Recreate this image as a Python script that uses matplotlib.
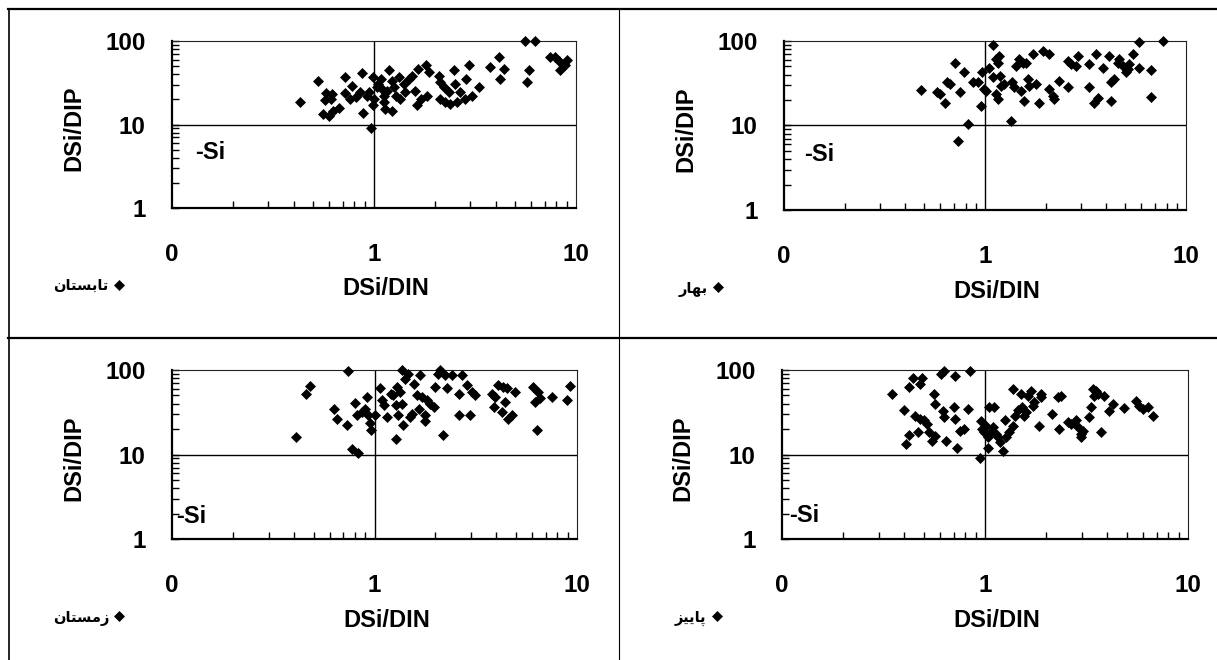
import matplotlib.pyplot as plt
from matplotlib.lines import Line2D
from matplotlib.ticker import LogLocator, NullFormatter

# Persian season names, written in presentation forms (visual order) so that
# matplotlib, which has no Arabic shaping, draws them joined and right-to-left.
# summer = تابستان, spring = بهار, winter = زمستان, autumn = پاییز
season_labels = [
    "\ufee5\ufe8e\ufe98\ufeb4\ufe91\ufe8e\ufe97",
    "\ufead\ufe8e\ufeec\ufe91",
    "\ufee5\ufe8e\ufe98\ufeb4\ufee3\ufeaf",
    "\ufeb0\ufbff\ufbfe\ufe8e\ufb58",
]

summer_x = [0.43, 0.53, 0.56, 0.60, 0.63, 0.67, 0.58, 0.62, 0.57, 0.61, 0.72, 0.72, 0.78,
            0.76, 0.81, 0.85, 0.87, 0.88, 0.94, 0.92, 0.99, 1.0, 0.99, 0.97, 1.05, 1.08,
            1.04, 1.10, 1.12, 1.12, 1.14, 1.23, 1.18, 1.23, 1.16, 1.25, 1.28, 1.33, 1.35,
            1.40, 1.43, 1.49, 1.54, 1.60, 1.63, 1.66, 1.70, 1.80, 1.87, 1.83, 2.09, 2.13,
            2.21, 2.11, 2.25, 2.39, 2.34, 2.48, 2.53, 2.58, 2.68, 2.83, 2.87, 2.94, 3.06,
            3.30, 3.77, 4.14, 4.22, 4.38, 5.61, 6.29, 5.83, 5.72, 7.46, 7.90, 8.21, 9.02,
            8.85, 8.36]
summer_y = [18.5, 33.0, 13.4, 12.8, 14.4, 15.8, 23.7, 23.3, 19.4, 20.3, 36.9, 23.7, 29.3,
            20.3, 21.5, 24.4, 41.2, 13.7, 24.4, 22.2, 36.9, 20.3, 16.9, 9.0, 30.7, 35.2,
            28.0, 26.7, 22.2, 18.5, 15.4, 14.4, 45.2, 33.6, 25.5, 28.0, 22.2, 36.9, 20.3,
            30.7, 24.4, 35.2, 38.6, 25.5, 16.9, 46.4, 20.3, 50.9, 42.4, 22.2, 38.6, 32.1,
            28.0, 20.3, 18.5, 17.7, 24.4, 44.4, 30.7, 18.5, 24.4, 20.3, 35.2, 50.9, 22.2,
            28.0, 48.6, 64.0, 35.2, 46.4, 99.5, 99.5, 45.2, 32.1, 64.0, 65.2, 58.3, 59.4,
            50.9, 44.4]

spring_x = [0.48, 0.58, 0.60, 0.63, 0.65, 0.67, 0.71, 0.73, 0.75, 0.79, 0.82, 0.87, 0.92,
            0.95, 0.97, 0.99, 1.01, 1.05, 1.09, 1.10, 1.13, 1.16, 1.18, 1.20, 1.19, 1.13,
            1.16, 1.25, 1.35, 1.37, 1.40, 1.43, 1.48, 1.51, 1.54, 1.57, 1.60, 1.63, 1.66,
            1.73, 1.79, 1.86, 1.94, 2.09, 2.09, 2.17, 2.21, 2.34, 2.58, 2.58, 2.68, 2.89,
            2.84, 3.30, 3.30, 3.50, 3.64, 3.57, 3.85, 4.24, 4.16, 4.24, 4.40, 4.57, 4.66,
            4.84, 5.03, 5.22, 5.43, 5.86, 5.86, 6.70, 6.70, 7.65, 5.13]
spring_y = [26.4, 24.6, 23.5, 18.4, 32.3, 30.8, 55.6, 6.6, 24.6, 43.2, 10.4, 32.9, 32.3,
            17.1, 42.4, 26.9, 25.7, 48.5, 89.3, 37.0, 60.9, 55.6, 66.7, 29.5, 38.7, 23.5,
            20.5, 30.8, 11.4, 32.3, 28.2, 50.8, 60.9, 25.7, 55.6, 19.6, 55.6, 35.3, 29.5,
            69.9, 30.8, 18.7, 76.6, 69.9, 26.9, 22.4, 20.5, 33.8, 28.2, 58.2, 53.2, 66.7,
            50.8, 53.2, 28.2, 18.7, 21.4, 69.9, 48.5, 19.6, 66.7, 32.3, 35.3, 55.6, 60.9,
            50.8, 42.4, 53.2, 69.9, 96.0, 48.5, 45.6, 22.0, 100.0, 46.4]

winter_x = [0.41, 0.46, 0.48, 0.63, 0.65, 0.73, 0.74, 0.77, 0.83, 0.80, 0.82, 0.87, 0.90,
            0.92, 0.93, 0.95, 0.96, 1.01, 1.07, 1.09, 1.11, 1.15, 1.20, 1.24, 1.27, 1.27,
            1.29, 1.31, 1.34, 1.36, 1.37, 1.39, 1.42, 1.47, 1.50, 1.53, 1.56, 1.62, 1.65,
            1.68, 1.71, 1.78, 1.78, 1.81, 1.88, 1.96, 1.99, 2.07, 2.11, 2.19, 2.23, 2.28,
            2.41, 2.60, 2.60, 2.70, 2.86, 2.97, 3.02, 3.14, 3.79, 3.87, 3.94, 4.09, 4.25,
            4.33, 4.41, 4.50, 4.58, 4.76, 4.94, 6.09, 6.21, 6.33, 6.45, 6.57, 7.49, 8.89,
            9.23]
winter_y = [16.2, 52.7, 65.0, 35.0, 26.2, 22.6, 96.8, 11.6, 10.3, 41.2, 29.2, 32.0, 35.0,
            48.1, 29.2, 23.3, 19.4, 29.2, 61.5, 43.9, 38.4, 27.9, 52.7, 50.4, 38.4, 15.2,
            63.2, 29.2, 54.2, 40.1, 100.0, 22.6, 79.3, 90.9, 27.9, 30.5, 69.2, 50.4, 35.0,
            86.9, 48.1, 24.8, 29.2, 43.9, 40.1, 36.6, 63.2, 90.9, 99.5, 17.2, 86.9, 61.5,
            86.9, 29.7, 52.7, 86.9, 66.2, 29.2, 55.2, 50.4, 52.7, 36.6, 48.1, 66.2, 32.0,
            63.2, 42.0, 61.5, 26.2, 29.2, 55.2, 63.2, 42.0, 19.4, 55.2, 46.0, 48.1, 43.9,
            65.0]

autumn_x = [0.35, 0.40, 0.41, 0.42, 0.42, 0.44, 0.45, 0.47, 0.48, 0.48, 0.49, 0.50, 0.52,
            0.53, 0.55, 0.56, 0.57, 0.57, 0.61, 0.63, 0.62, 0.63, 0.64, 0.70, 0.71, 0.71,
            0.73, 0.75, 0.79, 0.82, 0.84, 0.94, 0.96, 0.97, 0.99, 1.01, 1.03, 1.04, 1.05,
            1.07, 1.09, 1.11, 1.13, 1.16, 1.19, 1.22, 1.25, 1.27, 1.32, 1.37, 1.37, 1.41,
            1.45, 1.50, 1.53, 1.56, 1.59, 1.69, 1.62, 1.72, 1.75, 1.85, 1.89, 1.89, 2.15,
            2.28, 2.32, 2.37, 2.55, 2.65, 2.81, 2.86, 2.97, 2.97, 3.03, 3.26, 3.33, 3.39,
            3.45, 3.52, 3.59, 3.72, 3.87, 4.10, 4.25, 4.86, 5.54, 5.76, 5.98, 6.33, 6.70]
autumn_y = [51.3, 33.2, 13.4, 17.1, 62.6, 80.0, 28.4, 18.7, 26.4, 68.6, 80.0, 25.3, 23.1,
            18.4, 14.6, 52.2, 39.8, 16.5, 90.2, 98.6, 32.3, 27.7, 14.6, 36.3, 84.5, 26.4,
            11.9, 19.2, 20.1, 34.7, 96.0, 9.05, 24.6, 20.1, 18.4, 22.0, 16.0, 11.9, 36.3,
            18.4, 21.1, 36.3, 17.6, 16.0, 14.0, 10.9, 25.3, 16.0, 18.4, 59.8, 22.0, 28.9,
            33.2, 52.2, 36.3, 28.9, 31.7, 57.2, 49.9, 38.0, 41.6, 22.0, 52.2, 47.7, 30.3,
            47.7, 20.1, 49.9, 24.1, 23.1, 25.3, 21.1, 17.6, 16.0, 19.2, 27.7, 36.3, 59.8,
            49.9, 57.2, 52.2, 18.7, 49.9, 32.3, 39.8, 35.3, 42.4, 38.0, 34.7, 36.3, 28.9]

x_ticks = [0.1, 1, 10]
x_tick_labels = ["0", "1", "10"]
y_ticks = [1, 10, 100]
y_tick_labels = ["1", "10", "100"]

plt.rcParams['font.family'] = ['Liberation Sans', 'DejaVu Sans']
plt.rcParams['font.weight'] = 'bold'

W, H = 1217, 660
fig = plt.figure(figsize=(W / 100, H / 100), dpi=100)

# panel boxes in pixels: left, top, right, bottom
boxes = [(172, 41, 576, 208), (784, 41, 1186, 210),
         (172, 370, 577, 539), (782, 370, 1188, 539)]
si_pos = [(0.13, 4.6), (0.126, 4.5), (0.105, 1.85), (0.108, 1.9)]
series = [(summer_x, summer_y), (spring_x, spring_y),
          (winter_x, winter_y), (autumn_x, autumn_y)]

for box, (xs, ys), name, si in zip(boxes, series, season_labels, si_pos):
    l, t, r, b = box
    ax = fig.add_axes([l / W, 1 - b / H, (r - l) / W, (b - t) / H])
    ax.set_xscale('log')
    ax.set_yscale('log')
    ax.set_xlim(0.1, 10)
    ax.set_ylim(1, 100)

    ax.axvline(1, color='black', lw=1, zorder=1)
    ax.axhline(10, color='black', lw=1, zorder=1)
    ax.plot(xs, ys, linestyle='none', marker='D', ms=5.5, mew=0.5,
            color='black', label=name, zorder=3, clip_on=False)

    ax.set_xticks(x_ticks, x_tick_labels)
    ax.set_yticks(y_ticks, y_tick_labels)
    ax.xaxis.set_minor_locator(LogLocator(base=10, subs=range(2, 10)))
    ax.yaxis.set_minor_locator(LogLocator(base=10, subs=range(2, 10)))
    ax.xaxis.set_minor_formatter(NullFormatter())
    ax.yaxis.set_minor_formatter(NullFormatter())
    ax.tick_params(axis='x', which='both', direction='in', length=5, width=1,
                   pad=25, labelsize=17.5)
    ax.tick_params(axis='y', which='both', direction='in', length=5, width=1,
                   pad=19, labelsize=17.5)
    ax.tick_params(axis='x', which='major', length=0)

    for side in ['top', 'right']:
        ax.spines[side].set_linewidth(0.8)
        ax.spines[side].set_color('#222222')
    for side in ['left', 'bottom']:
        ax.spines[side].set_linewidth(1.6)

    ax.text(si[0], si[1], '-Si', fontsize=17, fontweight='bold',
            ha='left', va='center')

    ax.set_xlabel('DSi/DIN', fontsize=17, fontweight='bold')
    ax.set_ylabel('DSi/DIP', fontsize=17, fontweight='bold')
    ax.xaxis.set_label_coords(0.53, -0.413)
    ax.yaxis.set_label_coords(-0.215, 0.48)

    ax.legend(loc='center', bbox_to_anchor=(-0.207, -0.465), markerfirst=False,
              frameon=False, handlelength=0.6, handletextpad=0.4, markerscale=0.85,
              prop={'family': ['DejaVu Sans'], 'size': 10.5, 'weight': 'bold'})

# frame lines of the table around the four panels
fig.add_artist(Line2D([8 / W, 1], [1 - 8.5 / H] * 2, color='black', lw=1.6))
fig.add_artist(Line2D([8 / W, 1], [1 - 337.5 / H] * 2, color='black', lw=1.6))
fig.add_artist(Line2D([8.5 / W] * 2, [0, 1 - 8.5 / H], color='black', lw=1.2))
fig.add_artist(Line2D([618.5 / W] * 2, [0, 1 - 8.5 / H], color='black', lw=0.8))

fig.savefig('out.png', dpi=100)
